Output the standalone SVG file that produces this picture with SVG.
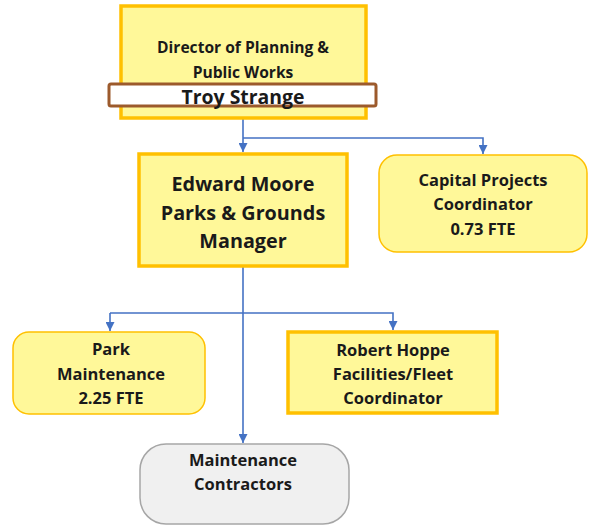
<svg xmlns="http://www.w3.org/2000/svg" width="589" height="527" viewBox="0 0 589 527">
<style>
  .t { font-family: "Open Sans", "Noto Sans", "Liberation Sans", sans-serif; font-weight: bold; fill: #1a1a1a; text-anchor: middle; dominant-baseline: central; }
  .s14 { font-size: 15.6px; }
  .s15 { font-size: 16.5px; }
  .s17 { font-size: 19.4px; }
  .s18 { font-size: 19.8px; }
  .yel { fill: #FFF899; stroke: #FFC000; }
  .thick { stroke-width: 3.5; }
  .thin { stroke-width: 1.5; }
  .con { fill: none; stroke: #4472C4; stroke-width: 1.6; }
</style>
<defs>
  <marker id="arr" viewBox="0 0 10 10" refX="10" refY="5" markerWidth="9" markerHeight="9" markerUnits="userSpaceOnUse" orient="auto">
    <path d="M0 0 L10 5 L0 10 Z" fill="#4472C4"/>
  </marker>
</defs>

<g id="connectors">
  <path class="con" d="M243 118 V152" marker-end="url(#arr)"/>
  <path class="con" d="M243 138 H483 V154" marker-end="url(#arr)"/>
  <path class="con" d="M243 267 V443" marker-end="url(#arr)"/>
  <path class="con" d="M110 313 H393 V330" marker-end="url(#arr)"/>
  <path class="con" d="M110 313 V331" marker-end="url(#arr)"/>
</g>

<g id="director">
  <rect class="yel thick" x="121" y="6" width="245" height="112"/>
  <text class="t s14" x="243" y="47">Director of Planning &amp;</text>
  <text class="t s14" x="243" y="72">Public Works</text>
  <rect x="109" y="84" width="267" height="22" rx="2" fill="#FFFFFF" stroke="#9C5A2C" stroke-width="3"/>
  <text class="t s17" x="243" y="96">Troy Strange</text>
</g>

<g id="edward">
  <rect class="yel thick" x="139" y="154" width="208" height="112"/>
  <text class="t s18" x="243" y="183">Edward Moore</text>
  <text class="t s18" x="243" y="212">Parks &amp; Grounds</text>
  <text class="t s18" x="243" y="240">Manager</text>
</g>

<g id="capital">
  <rect class="yel thin" x="379" y="155" width="208" height="97" rx="18"/>
  <text class="t s15" x="483" y="179">Capital Projects</text>
  <text class="t s15" x="483" y="203">Coordinator</text>
  <text class="t s15" x="483" y="228">0.73 FTE</text>
</g>

<g id="park">
  <rect class="yel thin" x="13" y="332" width="192" height="82" rx="16"/>
  <text class="t s15" x="111" y="348">Park</text>
  <text class="t s15" x="111" y="373">Maintenance</text>
  <text class="t s15" x="111" y="397">2.25 FTE</text>
</g>

<g id="robert">
  <rect class="yel thick" x="288" y="332" width="209" height="81"/>
  <text class="t s15" x="393" y="349">Robert Hoppe</text>
  <text class="t s15" x="393" y="373">Facilities/Fleet</text>
  <text class="t s15" x="393" y="397">Coordinator</text>
</g>

<g id="contractors">
  <rect x="140" y="444" width="209" height="80" rx="26" fill="#F0F0F0" stroke="#A6A6A6" stroke-width="1.5"/>
  <text class="t s15" x="243" y="459">Maintenance</text>
  <text class="t s15" x="243" y="483">Contractors</text>
</g>
</svg>
